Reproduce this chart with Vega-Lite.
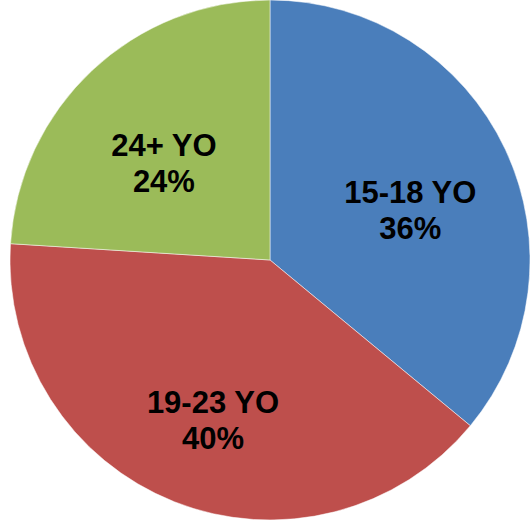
{
  "$schema": "https://vega.github.io/schema/vega-lite/v6.json",
  "width": 530,
  "height": 524,
  "autosize": {"type": "fit", "contains": "padding"},
  "padding": {"left": 10, "right": 0, "top": 0, "bottom": 4},
  "background": "white",
  "view": {"stroke": null},
  "data": {
    "values": [
      {"group": "15-18 YO", "value": 36, "o": 1, "label": "15-18 YO\n36%"},
      {"group": "19-23 YO", "value": 40, "o": 2, "label": "19-23 YO\n40%"},
      {"group": "24+ YO", "value": 24, "o": 3, "label": "24+ YO\n24%"}
    ]
  },
  "encoding": {
    "theta": {"field": "value", "type": "quantitative", "stack": true},
    "order": {"field": "o", "type": "quantitative"}
  },
  "layer": [
    {
      "mark": {"type": "arc", "outerRadius": 260, "stroke": "#ffffff", "strokeWidth": 0.5},
      "encoding": {
        "color": {
          "field": "group",
          "type": "nominal",
          "scale": {"domain": ["15-18 YO", "19-23 YO", "24+ YO"], "range": ["#4A7EBB", "#BE4F4C", "#9BBB59"]},
          "legend": null
        }
      }
    },
    {
      "mark": {"type": "text", "radius": 155, "font": "Liberation Sans", "fontSize": 31, "fontWeight": "bold", "color": "#000000", "lineBreak": "\n", "lineHeight": 36, "baseline": "middle", "align": "center"},
      "encoding": {
        "text": {"field": "label", "type": "nominal"}
      }
    }
  ]
}
